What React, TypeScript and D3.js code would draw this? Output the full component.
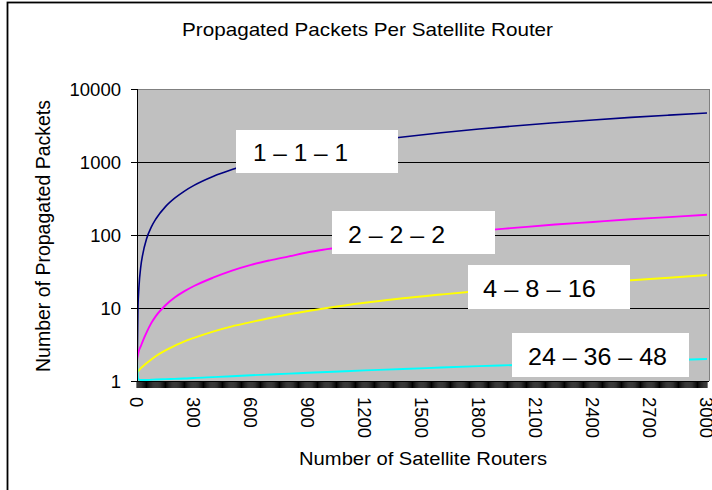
import React from "react";
import * as d3 from "d3";

const routers = [0, 5, 10, 20, 30, 50, 75, 100, 150, 200, 250, 300, 400, 500, 600, 700, 800, 900, 1000, 1200, 1400, 1600, 1800, 2000, 2200, 2400, 2600, 2800, 3000];

const series111 = [1, 10, 19, 37, 54, 88, 128, 167, 245, 322, 400, 478, 633, 788, 943, 1098, 1253, 1410, 1565, 1880, 2195, 2510, 2825, 3140, 3450, 3765, 4080, 4390, 4700];
const series222 = [2, 2.3, 2.6, 3.0, 3.5, 4.6, 6.2, 7.8, 10.9, 14, 17, 20, 26, 32.5, 39, 45, 51, 58, 64, 76, 89, 101, 114, 126, 139, 151, 164, 176, 189];
const series4816 = [1.3, 1.35, 1.4, 1.5, 1.58, 1.75, 1.97, 2.2, 2.63, 3.05, 3.5, 3.9, 4.75, 5.6, 6.4, 7.3, 8.2, 9.1, 10, 11.8, 13.6, 15.3, 17.1, 18.8, 20.5, 22.3, 24, 26, 28.3];
const series243648 = [2, 1.1, 1.05, 1.03, 1.03, 1.03, 1.04, 1.05, 1.06, 1.07, 1.08, 1.1, 1.13, 1.16, 1.2, 1.23, 1.26, 1.3, 1.33, 1.4, 1.46, 1.53, 1.6, 1.66, 1.73, 1.8, 1.86, 1.93, 2.0];

const seriesLabels = ["1 – 1 – 1", "2 – 2 – 2", "4 – 8 – 16", "24 – 36 – 48"];
const seriesColors = ["#000080", "#FF00FF", "#FFFF00", "#00FFFF"];

const yTicks = [1, 10, 100, 1000, 10000];
const xTicks = [0, 300, 600, 900, 1200, 1500, 1800, 2100, 2400, 2700, 3000];

const title = "Propagated Packets Per Satellite Router";
const xTitle = "Number of Satellite Routers";
const yTitle = "Number of Propagated Packets";

// label box layout (pixels)
const labelBoxes = [
  { x: 236, y: 130, w: 162, h: 43, tx: 253, ty: 161, tl: 95 },
  { x: 332, y: 211, w: 163, h: 43, tx: 348, ty: 243, tl: 97 },
  { x: 468, y: 265, w: 162, h: 44, tx: 483, ty: 297, tl: 113 },
  { x: 512, y: 333, w: 177, h: 44, tx: 528, ty: 365, tl: 139 },
];

const W = 712;
const H = 490;
const plotLeft = 137;
const plotRight = 709;
const plotTop = 89;
const plotBottom = 381;
const FONT = "'Liberation Sans', Arial, Helvetica, sans-serif";

export default function App() {
  const x = d3.scaleLinear().domain([0, 3000]).range([plotLeft, 707]);
  const y = d3.scaleLog().domain([1, 10000]).range([plotBottom, plotTop]);

  const allSeries = [series111, series222, series4816, series243648];
  const line = d3
    .line<[number, number]>()
    .x((d) => x(d[0]))
    .y((d) => y(d[1]))
    .curve(d3.curveMonotoneX);

  const minorTicks = d3.range(0, 3001, 5);

  return (
    <svg
      width={W}
      height={H}
      style={{ position: "absolute", left: 0, top: 0, background: "#fff" }}
      fontFamily={FONT}
    >
      <rect x={0} y={0} width={W} height={H} fill="#fff" />
      {/* outer frame */}
      <rect x={7.5} y={2.5} width={800} height={600} fill="none" stroke="#000" strokeWidth={1.8} />

      {/* title */}
      <text x={367.5} y={36} textAnchor="middle" fontSize={19} textLength={371} lengthAdjust="spacingAndGlyphs" fill="#000">
        {title}
      </text>

      {/* plot area */}
      <rect x={plotLeft} y={plotTop} width={plotRight - plotLeft} height={plotBottom - plotTop} fill="#C0C0C0" />
      <line x1={plotLeft} x2={plotRight} y1={plotTop + 0.5} y2={plotTop + 0.5} stroke="#808080" strokeWidth={1} />
      <line x1={plotRight + 0.5} x2={plotRight + 0.5} y1={plotTop} y2={plotBottom} stroke="#808080" strokeWidth={1} />

      {/* gridlines */}
      {yTicks.slice(1, -1).map((t) => (
        <line key={"g" + t} x1={plotLeft} x2={plotRight} y1={Math.round(y(t)) + 0.5} y2={Math.round(y(t)) + 0.5} stroke="#000" strokeWidth={1} />
      ))}

      <defs>
        <clipPath id="plotclip">
          <rect x={plotLeft} y={plotTop} width={plotRight - plotLeft} height={plotBottom - plotTop + 1} />
        </clipPath>
      </defs>

      {/* series */}
      <g clipPath="url(#plotclip)">
        {allSeries.map((s, i) => (
          <path
            key={"s" + i}
            d={line(routers.map((r, j) => [r, s[j]] as [number, number])) || ""}
            fill="none"
            stroke={seriesColors[i]}
            strokeWidth={i === 0 ? 1.6 : 1.9}
            strokeLinejoin="round"
          />
        ))}
      </g>

      {/* y axis */}
      <line x1={plotLeft + 0.5} x2={plotLeft + 0.5} y1={plotTop} y2={plotBottom} stroke="#000" strokeWidth={1} />
      {yTicks.map((t) => (
        <g key={"yt" + t}>
          <line x1={plotLeft - 6} x2={plotLeft} y1={Math.round(y(t)) + 0.5} y2={Math.round(y(t)) + 0.5} stroke="#000" strokeWidth={1} />
          <text x={121} y={y(t)} dy="0.36em" textAnchor="end" fontSize={18.5} fill="#000">
            {String(t)}
          </text>
        </g>
      ))}

      {/* x axis */}
      <line x1={plotLeft} x2={plotRight} y1={plotBottom + 0.5} y2={plotBottom + 0.5} stroke="#000" strokeWidth={1} />
      {minorTicks.map((t) => (
        <line key={"mt" + t} x1={x(t)} x2={x(t)} y1={plotBottom} y2={plotBottom + 7} stroke="#000" strokeWidth={1} />
      ))}
      {xTicks.map((t) => (
        <text
          key={"xt" + t}
          transform={`translate(${x(t)},397) rotate(90)`}
          dy="0.36em"
          textAnchor="start"
          fontSize={18.5}
          fill="#000"
        >
          {String(t)}
        </text>
      ))}

      {/* axis titles */}
      <text x={423} y={465} textAnchor="middle" fontSize={18} textLength={248} lengthAdjust="spacingAndGlyphs" fill="#000">
        {xTitle}
      </text>
      <text transform="translate(50,236) rotate(-90)" textAnchor="middle" fontSize={19.5} fill="#000">
        {yTitle}
      </text>

      {/* series label boxes */}
      {labelBoxes.map((b, i) => (
        <g key={"lb" + i}>
          <rect x={b.x} y={b.y} width={b.w} height={b.h} fill="#fff" />
          <text x={b.tx} y={b.ty} fontSize={24} textLength={b.tl} lengthAdjust="spacingAndGlyphs" fill="#000">
            {seriesLabels[i]}
          </text>
        </g>
      ))}
    </svg>
  );
}
